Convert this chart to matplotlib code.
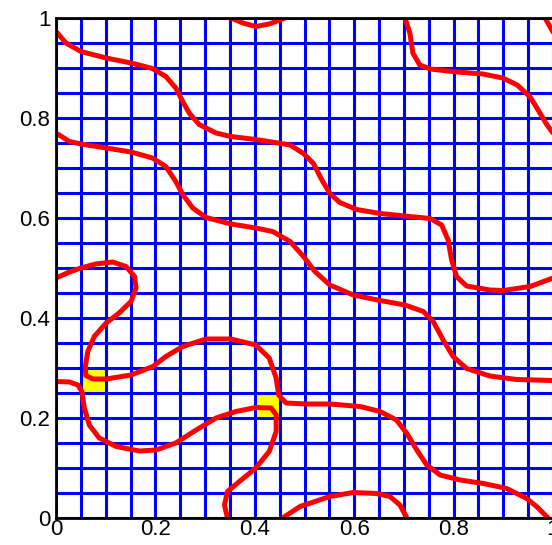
import numpy as np
import matplotlib.pyplot as plt

plt.rcParams['font.family'] = ['Liberation Sans', 'DejaVu Sans']

# mesh lines (20 x 20 cells on the unit square)
mesh = np.linspace(0, 1, 21)

# flagged cells (lower-left corners), cell size 0.05
cell_x = [0.05, 0.40]
cell_y = [0.25, 0.20]
cell_size = 0.05

# interface curves
a_x = [0, 0.020, 0.050, 0.101, 0.151, 0.194, 0.221, 0.241, 0.255, 0.268, 0.288, 0.322,
       0.352, 0.402, 0.453, 0.471, 0.498, 0.518, 0.535, 0.551, 0.571, 0.605, 0.652,
       0.702, 0.753, 0.776, 0.789, 0.796, 0.806, 0.826, 0.873, 0.900, 0.954, 1.0]
a_y = [0.973, 0.950, 0.933, 0.920, 0.910, 0.899, 0.883, 0.860, 0.833, 0.810, 0.787, 0.770,
       0.763, 0.757, 0.749, 0.746, 0.729, 0.709, 0.676, 0.649, 0.631, 0.617, 0.609,
       0.604, 0.599, 0.586, 0.556, 0.516, 0.483, 0.464, 0.456, 0.455, 0.463, 0.480]

b_x = [0, 0.027, 0.050, 0.101, 0.151, 0.194, 0.221, 0.241, 0.255, 0.275, 0.302, 0.352,
       0.402, 0.436, 0.471, 0.498, 0.521, 0.551, 0.598, 0.652, 0.702, 0.739, 0.759,
       0.779, 0.799, 0.826, 0.873, 0.927, 1.0]
b_y = [0.770, 0.753, 0.748, 0.740, 0.732, 0.720, 0.703, 0.673, 0.647, 0.620, 0.601, 0.588,
       0.580, 0.573, 0.553, 0.523, 0.493, 0.466, 0.446, 0.435, 0.426, 0.413, 0.393,
       0.356, 0.323, 0.299, 0.284, 0.277, 0.275]

c_x = [0, 0.027, 0.050, 0.080, 0.114, 0.141, 0.158, 0.161, 0.151, 0.127, 0.101, 0.077,
       0.064, 0.059, 0.060, 0.074, 0.101, 0.151, 0.195, 0.221, 0.255, 0.302, 0.352,
       0.402, 0.429, 0.443, 0.448, 0.463, 0.503, 0.551, 0.612, 0.652, 0.685, 0.706,
       0.726, 0.746, 0.773, 0.813, 0.860, 0.907, 0.947, 0.967, 0.990]
c_y = [0.480, 0.492, 0.500, 0.508, 0.512, 0.503, 0.483, 0.460, 0.433, 0.410, 0.390, 0.363,
       0.333, 0.303, 0.285, 0.278, 0.278, 0.286, 0.303, 0.323, 0.343, 0.358, 0.358,
       0.346, 0.320, 0.280, 0.246, 0.230, 0.228, 0.228, 0.223, 0.213, 0.196, 0.169,
       0.136, 0.106, 0.086, 0.076, 0.069, 0.059, 0.039, 0.023, 0.0]

d_x = [0, 0.027, 0.044, 0.052, 0.057, 0.067, 0.087, 0.121, 0.168, 0.201, 0.241, 0.282,
       0.322, 0.362, 0.402, 0.433, 0.443, 0.443, 0.429, 0.402, 0.369, 0.345, 0.339, 0.345]
d_y = [0.273, 0.272, 0.266, 0.253, 0.220, 0.186, 0.160, 0.143, 0.134, 0.136, 0.150, 0.176,
       0.200, 0.213, 0.221, 0.220, 0.206, 0.173, 0.133, 0.100, 0.073, 0.053, 0.026, 0.0]

e_x = [0.456, 0.491, 0.551, 0.598, 0.645, 0.672, 0.692, 0.706]
e_y = [0.0, 0.023, 0.043, 0.051, 0.049, 0.043, 0.026, 0.0]

f_x = [0.702, 0.712, 0.718, 0.732, 0.753, 0.807, 0.859, 0.899, 0.928, 0.954, 0.970, 0.988, 1.0]
f_y = [1.0, 0.970, 0.930, 0.906, 0.898, 0.892, 0.888, 0.880, 0.866, 0.842, 0.816, 0.786, 0.770]

g_x = [0.352, 0.376, 0.402, 0.429, 0.461]
g_y = [1.0, 0.990, 0.983, 0.988, 1.0]

h_x = [0.984, 1.0]
h_y = [1.0, 0.972]

curves = [(a_x, a_y), (b_x, b_y), (c_x, c_y), (d_x, d_y),
          (e_x, e_y), (f_x, f_y), (g_x, g_y), (h_x, h_y)]

ticks = [0, 0.2, 0.4, 0.6, 0.8, 1]
tick_labels = ['0', '0.2', '0.4', '0.6', '0.8', '1']

fig = plt.figure(figsize=(5.52, 5.45), dpi=100)
ax = fig.add_axes([56 / 552, 27 / 545, 497 / 552, 500 / 545])

ax.bar(cell_x, [cell_size] * len(cell_x), width=cell_size, bottom=cell_y,
       align='edge', color='yellow', zorder=1)

ax.vlines(mesh, 0, 1, colors='blue', linewidth=2.2, zorder=2)
ax.hlines(mesh, 0, 1, colors='blue', linewidth=2.2, zorder=2)

for cx, cy in curves:
    ax.plot(cx, cy, color='red', linewidth=3.6, solid_capstyle='round',
            solid_joinstyle='round', zorder=3)

ax.set_xlim(0, 1)
ax.set_ylim(0, 1)
ax.set_xticks(ticks)
ax.set_xticklabels(tick_labels)
ax.set_yticks(ticks)
ax.set_yticklabels(tick_labels)
ax.tick_params(length=0, labelsize=16)
ax.tick_params(axis='x', pad=1)
ax.tick_params(axis='y', pad=4)
for spine in ax.spines.values():
    spine.set_linewidth(2)
    spine.set_zorder(4)

fig.savefig('out.png', dpi=100)
